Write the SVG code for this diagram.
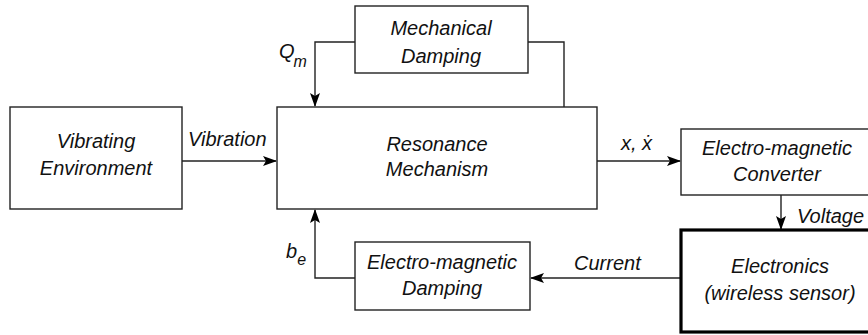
<svg xmlns="http://www.w3.org/2000/svg" width="868" height="335" viewBox="0 0 868 335">
<defs>
<marker id="arr" viewBox="0 0 14 10" refX="13" refY="5" markerWidth="14" markerHeight="10" markerUnits="userSpaceOnUse" orient="auto">
<path d="M0,0 L14,5 L0,10 L3,5 z" fill="#000"/>
</marker>
</defs>
<style>
.box{fill:#fff;stroke:#222;stroke-width:1.4}
.thick{fill:#fff;stroke:#000;stroke-width:3.2}
.t{font-family:"Liberation Sans",Arial,sans-serif;font-style:italic;font-size:20px;fill:#111}
.c{text-anchor:middle}
.sub{font-size:16px}
.ln{fill:none;stroke:#222;stroke-width:1.4}
</style>
<rect width="868" height="335" fill="#fff"/>
<g id="connectors">
<path class="ln" d="M355,42 H315 V106" marker-end="url(#arr)"/>
<path class="ln" d="M528,42 H564 V107"/>
<path class="ln" d="M182,161 H276" marker-end="url(#arr)"/>
<path class="ln" d="M597,161 H680" marker-end="url(#arr)"/>
<path class="ln" d="M781,195 V229" marker-end="url(#arr)"/>
<path class="ln" d="M681,278 H531" marker-end="url(#arr)"/>
<path class="ln" d="M355,278 H315 V210" marker-end="url(#arr)"/>
<text class="t" x="279" y="58">Q<tspan class="sub" dx="-1" dy="9">m</tspan></text>
<text class="t" x="286" y="258">b<tspan class="sub" dy="7">e</tspan></text>
<text class="t" x="188" y="146">Vibration</text>
<text class="t" x="621" y="150">x, ẋ</text>
<text class="t" x="797" y="223">Voltage</text>
<text class="t" x="574" y="270">Current</text>
</g>
<g id="env">
<rect class="box" x="10" y="107" width="172" height="102"/>
<text class="t c" x="96" y="148">Vibrating</text>
<text class="t c" x="96" y="175">Environment</text>
</g>
<g id="resonance">
<rect class="box" x="277" y="107" width="320" height="102"/>
<text class="t c" x="437" y="151">Resonance</text>
<text class="t c" x="437" y="176">Mechanism</text>
</g>
<g id="mechdamp">
<rect class="box" x="355" y="6" width="173" height="67"/>
<text class="t c" x="441" y="35">Mechanical</text>
<text class="t c" x="441" y="63">Damping</text>
</g>
<g id="converter">
<rect class="box" x="681" y="129" width="200" height="66"/>
<text class="t c" x="777" y="155">Electro-magnetic</text>
<text class="t c" x="777" y="181">Converter</text>
</g>
<g id="electronics">
<rect class="thick" x="681" y="230" width="200" height="102"/>
<text class="t c" x="780" y="273">Electronics</text>
<text class="t c" x="780" y="300">(wireless sensor)</text>
</g>
<g id="emdamp">
<rect class="box" x="355" y="242" width="175" height="68"/>
<text class="t c" x="442" y="269">Electro-magnetic</text>
<text class="t c" x="442" y="295">Damping</text>
</g>
</svg>
